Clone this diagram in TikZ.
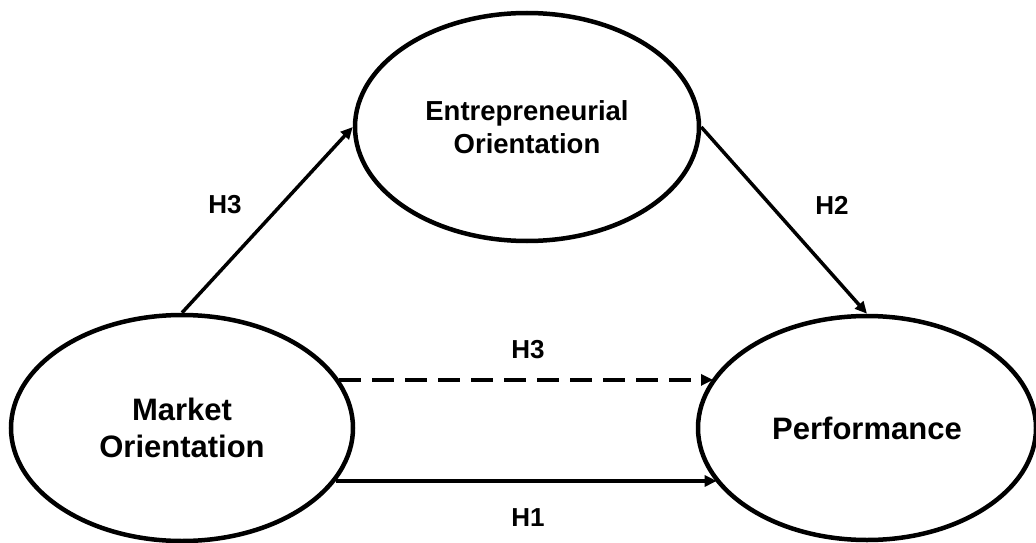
\documentclass[tikz,border=0pt]{standalone}
\usepackage{fontspec}
\setmainfont{Liberation Sans}
\usetikzlibrary{arrows.meta,shapes.geometric}
\tikzset{
  construct/.style={ellipse, draw, line width=4.5pt, inner sep=0pt, align=center, font=\bfseries},
  path arrow/.style={line width=3.5pt, -{Triangle[length=12pt,width=11pt]}},
  hyplabel/.style={font=\bfseries\fontsize{26}{30}\selectfont},
  dashpath/.style={dash pattern=on 22pt off 11pt}
}
\begin{document}
\begin{tikzpicture}[x=1pt,y=1pt]
\useasboundingbox (0,0) rectangle (1036,542);
% latent constructs
\node[construct, minimum width=344pt, minimum height=228pt,
      font=\bfseries\fontsize{27.5}{33}\selectfont] (eo) at (527,415)
  {Entrepreneurial\\Orientation};
\node[construct, minimum width=342pt, minimum height=226pt,
      font=\bfseries\fontsize{31}{37}\selectfont] (mo) at (182,114)
  {Market\\Orientation};
\node[construct, minimum width=338pt, minimum height=224pt,
      font=\bfseries\fontsize{31}{37}\selectfont] (perf) at (867,114)
  {Performance};
% hypothesised paths
\draw[path arrow] (mo.north) -- (eo.west);
\draw[path arrow] (eo.east) -- (perf.north);
\draw[path arrow, dashpath] (mo.17.2) -- (perf.162.6 |- mo.17.2);
\draw[path arrow] (mo.-19.8) -- (perf.200 |- mo.-19.8);
% path labels
\node[hyplabel] (h3a) at (225,337) {H3};
\node[hyplabel] (h2) at (832,337) {H2};
\node[hyplabel] (h3b) at (528,192) {H3};
\node[hyplabel] (h1) at (528,24) {H1};
\end{tikzpicture}
\end{document}
